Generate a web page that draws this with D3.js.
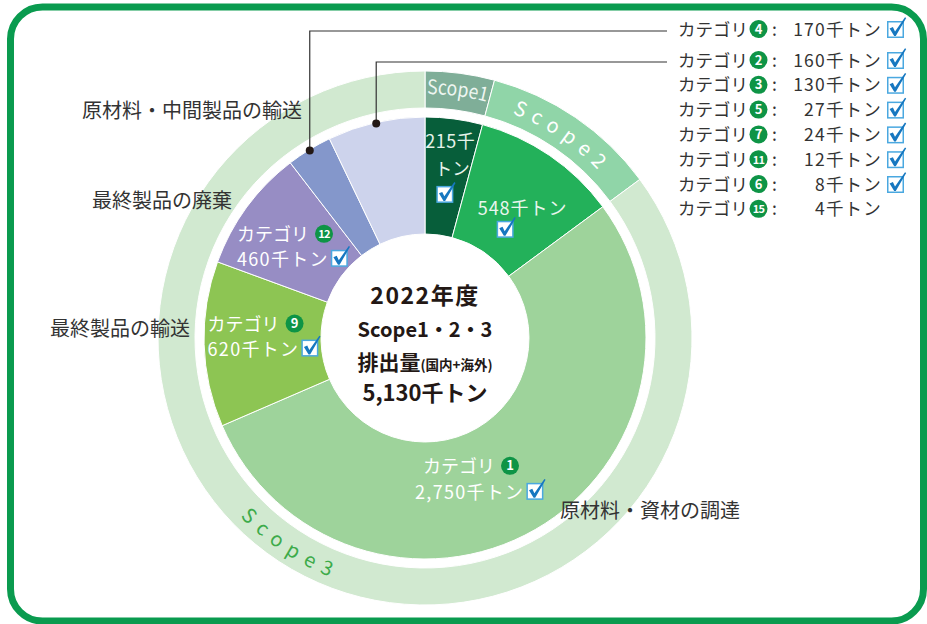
<!DOCTYPE html>
<html>
<head>
<meta charset="utf-8">
<script src="https://cdn.jsdelivr.net/npm/d3@7"></script>
<style>
    body { margin: 0; background: #fff; }
    svg { display: block; font-family: "Noto Sans CJK JP", "Noto Sans", sans-serif; }
</style>
</head>
<body>
<script>
// ---------------------------------------------------------------------------
// data (千トン)
// ---------------------------------------------------------------------------
var segNames  = ["Scope1", "Scope2", "カテゴリ1", "カテゴリ9", "カテゴリ12",
                 "カテゴリ4", "その他"];
var segValues = [215, 548, 2750, 620, 460, 170, 365];
var segScope  = ["Scope1", "Scope2", "Scope3", "Scope3", "Scope3",
                 "Scope3", "Scope3"];
var scopeNames = ["Scope1", "Scope2", "Scope3"];

var legendCats    = [4, 2, 3, 5, 7, 11, 6, 15];
var legendValues  = [170, 160, 130, 27, 24, 12, 8, 4];
var legendChecked = [true, true, true, true, true, true, true, false];

var centerLines = ["2022年度", "Scope1・2・3", "排出量", "5,130千トン"];

// styles
var segColors   = ["#075e3a", "#23b15a", "#9ed39b", "#8dc553", "#978dc4",
                   "#8497cb", "#cdd3ec"];
var scopeColors = ["#7fae98", "#90d5a8", "#d1e9d0"];

// ---------------------------------------------------------------------------
var W = 927, H = 624;
var cx = 425, cy = 338;
var r0 = 104, r1 = 221, r2 = 230, r3 = 267;

var svg = d3.select("body").append("svg")
    .attr("width", W)
    .attr("height", H);

// green frame
svg.append("rect")
    .attr("x", 10.5).attr("y", 7)
    .attr("width", 913).attr("height", 614)
    .attr("rx", 32)
    .attr("fill", "none")
    .attr("stroke", "#0a9b4f")
    .attr("stroke-width", 7);

var chart = svg.append("g")
    .attr("transform", "translate(" + cx + "," + cy + ")");

var pie = d3.pie().sort(null).value(function(d) { return d; });
var segArcs = pie(segValues);
var arc = d3.arc().innerRadius(r0).outerRadius(r1);

var scopeValues = scopeNames.map(function(s) {
    return d3.sum(segValues.filter(function(v, i) { return segScope[i] === s; }));
});
var scopeArcs = pie(scopeValues);
var ringArc = d3.arc().innerRadius(r2).outerRadius(r3);

// outer scope ring
chart.selectAll("path.ring")
    .data(scopeArcs)
    .enter().append("path")
    .attr("class", "ring")
    .attr("d", ringArc)
    .attr("fill", function(d, i) { return scopeColors[i]; })
    .attr("stroke", "#fff")
    .attr("stroke-width", 1);

// donut
chart.selectAll("path.seg")
    .data(segArcs)
    .enter().append("path")
    .attr("class", "seg")
    .attr("d", arc)
    .attr("fill", function(d, i) { return segColors[i]; })
    .attr("stroke", "#fff")
    .attr("stroke-width", 1);

// helpers
function polar(a, r) { return [r * Math.sin(a), -r * Math.cos(a)]; }

function arcPath(r, a0, a1) {
    var p0 = polar(a0, r), p1 = polar(a1, r);
    var large = Math.abs(a1 - a0) > Math.PI ? 1 : 0;
    var sweep = a1 > a0 ? 1 : 0;
    return "M" + p0 + "A" + r + "," + r + " 0 " + large + "," + sweep + " " + p1;
}

function addCheck(g, x, y) {
    var c = g.append("g").attr("transform", "translate(" + x + "," + y + ")");
    c.append("rect")
        .attr("x", 0.75).attr("y", 0.75)
        .attr("width", 15.5).attr("height", 15.5)
        .attr("fill", "#fff")
        .attr("stroke", "#4aa8e0")
        .attr("stroke-width", 1.5);
    c.append("path")
        .attr("d", "M2.6,7.4 L5.9,6 L8,10.4 L18,-3.8 L19.2,-3 L8.8,15 L7.2,15 Z")
        .attr("fill", "#1677c0");
}

function addNum(g, x, y, n) {
    g.append("circle")
        .attr("cx", x).attr("cy", y).attr("r", 9)
        .attr("fill", "#0e9446");
    g.append("text")
        .attr("x", x).attr("y", y + 4.5)
        .attr("text-anchor", "middle")
        .attr("fill", "#fff")
        .attr("font-weight", "bold")
        .attr("font-size", n > 9 ? 11 : 13)
        .attr("letter-spacing", n > 9 ? -0.8 : 0)
        .text(n);
}

var defs = svg.append("defs");

// scope labels on ring
defs.append("path").attr("id", "p-s1")
    .attr("d", arcPath(244, scopeArcs[0].startAngle, scopeArcs[0].endAngle));
defs.append("path").attr("id", "p-s2")
    .attr("d", arcPath(241, scopeArcs[1].startAngle, scopeArcs[1].endAngle));
defs.append("path").attr("id", "p-s3")
    .attr("d", arcPath(257, 250 * Math.PI / 180, 176 * Math.PI / 180));

chart.append("text")
    .attr("font-size", 20)
    .attr("fill", "#eef6f1")
    .append("textPath")
    .attr("href", "#p-s1")
    .attr("startOffset", "50%")
    .attr("text-anchor", "middle")
    .attr("textLength", 60)
    .attr("lengthAdjust", "spacingAndGlyphs")
    .text(scopeNames[0]);

chart.append("text")
    .attr("font-size", 20)
    .attr("fill", "#fff")
    .attr("letter-spacing", 7)
    .append("textPath")
    .attr("href", "#p-s2")
    .attr("startOffset", "50%")
    .attr("text-anchor", "middle")
    .text(scopeNames[1]);

chart.append("text")
    .attr("font-size", 20)
    .attr("fill", "#3dab4a")
    .attr("letter-spacing", 8)
    .append("textPath")
    .attr("href", "#p-s3")
    .attr("startOffset", "50%")
    .attr("text-anchor", "middle")
    .text(scopeNames[2]);

// labels inside segments (offsets from centroid)
var lab = chart.append("g")
    .attr("fill", "#fff")
    .attr("font-size", 18);

var c0 = arc.centroid(segArcs[0]);
lab.append("text").attr("x", c0[0] + 4).attr("y", c0[1] - 29)
    .attr("text-anchor", "middle").attr("fill", "#e6f3ea")
    .attr("letter-spacing", 0.5)
    .text(segValues[0] + "千");
lab.append("text").attr("x", c0[0] + 6).attr("y", c0[1] - 2)
    .attr("text-anchor", "middle").attr("fill", "#e6f3ea")
    .attr("font-size", 17.5)
    .text("トン");
addCheck(lab, c0[0] - 10, c0[1] + 9);

var c1 = arc.centroid(segArcs[1]);
lab.append("text").attr("x", c1[0] + 6).attr("y", c1[1] + 11)
    .attr("text-anchor", "middle").attr("fill", "#eaf6ee")
    .attr("letter-spacing", 1)
    .text(segValues[1] + "千トン");
addCheck(lab, c1[0] - 20, c1[1] + 17);

function catLabel(i, cat, dx1, dy1, dx2, dy2) {
    var c = arc.centroid(segArcs[i]);
    var x1 = c[0] + dx1, y1 = c[1] + dy1;
    lab.append("text").attr("x", x1).attr("y", y1).text("カテゴリ");
    addNum(lab, x1 + 87, y1 - 7, cat);
    var t = lab.append("text")
        .attr("x", c[0] + dx2).attr("y", c[1] + dy2)
        .attr("letter-spacing", 1.3)
        .text(d3.format(",")(segValues[i]) + "千トン");
    var w = t.node().getComputedTextLength();
    addCheck(lab, c[0] + dx2 + w + 2, c[1] + dy2 - 16);
}
catLabel(2, 1, -83, -6, -91, 20);
catLabel(3, 9, -55, -12, -55, 13);
catLabel(4, 12, -57, -1, -57, 24);

// centre text
var ctr = chart.append("g")
    .attr("fill", "#231815")
    .attr("font-weight", "bold")
    .attr("text-anchor", "middle");
ctr.append("text").attr("y", -34).attr("font-size", 23)
    .attr("letter-spacing", 1.5).text(centerLines[0]);
ctr.append("text").attr("y", -1).attr("font-size", 20)
    .text(centerLines[1]);
var t3 = ctr.append("text").attr("y", 32).attr("font-size", 21);
t3.append("tspan").text(centerLines[2]);
t3.append("tspan").attr("font-size", 13.5).text("(国内+海外)");
ctr.append("text").attr("y", 63).attr("font-size", 22)
    .text(centerLines[3]);

// outer category names
var names = svg.append("g")
    .attr("fill", "#333")
    .attr("font-size", 20);
names.append("text").attr("x", 82).attr("y", 118).text("原材料・中間製品の輸送");
names.append("text").attr("x", 92).attr("y", 208).text("最終製品の廃棄");
names.append("text").attr("x", 50).attr("y", 336).text("最終製品の輸送");
names.append("text").attr("x", 560).attr("y", 518).text("原材料・資材の調達");

// legend on the right
var legendY = legendCats.map(function(c, i) {
    return i === 0 ? 29 : 60 + (i - 1) * 24.8;
});
var leg = svg.append("g")
    .attr("fill", "#333")
    .attr("font-size", 17.5);
legendCats.forEach(function(cat, i) {
    var y = legendY[i];
    leg.append("text").attr("x", 678).attr("y", y + 6.5).text("カテゴリ");
    addNum(leg, 758.5, y, cat);
    leg.append("text").attr("x", 772).attr("y", y + 6.5).text(":");
    leg.append("text").attr("x", 882).attr("y", y + 6.5)
        .attr("text-anchor", "end")
        .attr("letter-spacing", 1.2)
        .text(legendValues[i] + "千トン");
    if (legendChecked[i]) addCheck(leg, 887, y - 8);
});

// leader lines: cat4 -> legend row 0, others -> legend row 1
[[5, 0], [6, 1]].forEach(function(p) {
    var a = (segArcs[p[0]].startAngle + segArcs[p[0]].endAngle) / 2;
    var pt = polar(a, r1 - 1);
    var x = cx + pt[0], y = cy + pt[1];
    var ly = legendY[p[1]] + 2;
    svg.append("path")
        .attr("d", "M" + x + "," + y + "V" + ly + "H667")
        .attr("fill", "none")
        .attr("stroke", "#333")
        .attr("stroke-width", 1.2);
    svg.append("circle")
        .attr("cx", x).attr("cy", y).attr("r", 4)
        .attr("fill", "#231815");
});
</script>
</body>
</html>
